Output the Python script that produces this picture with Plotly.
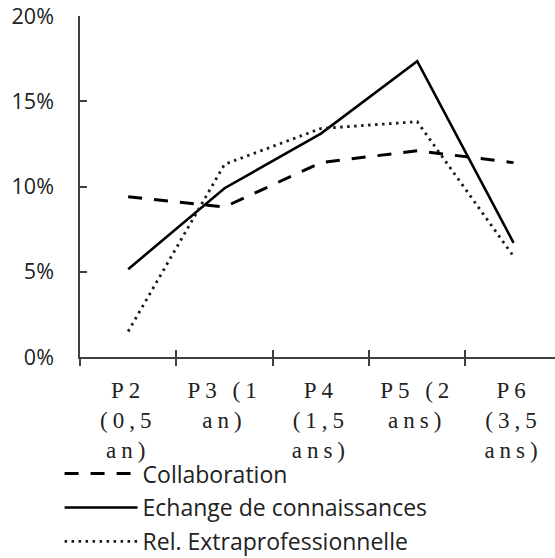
import plotly.graph_objects as go

categories = ["P2<br>(0,5<br>an)", "P3 (1<br>an)", "P4<br>(1,5<br>ans)", "P5 (2<br>ans)", "P6<br>(3,5<br>ans)"]
collaboration = [9.4, 8.8, 11.4, 12.1, 11.4]
echange = [5.15, 9.9, 13.1, 17.35, 6.7]
rel_extra = [1.5, 11.3, 13.4, 13.8, 5.9]
y_ticks = [0, 5, 10, 15, 20]
y_tick_labels = ["0%", "5%", "10%", "15%", "20%"]

axis_color = "#404040"
x_idx = list(range(len(categories)))

fig = go.Figure()
fig.add_trace(go.Scatter(x=x_idx, y=collaboration, mode="lines", name="Collaboration", legendgroup="a",
                         line=dict(color="black", width=3, dash="14px,12px")))
fig.add_trace(go.Scatter(x=x_idx, y=echange, mode="lines", name="Echange de connaissances", legendgroup="b",
                         line=dict(color="black", width=2.6)))
fig.add_trace(go.Scatter(x=x_idx, y=rel_extra, mode="lines", name="Rel. Extraprofessionnelle", legendgroup="c",
                         line=dict(color="#1a1a1a", width=2.8, dash="2.5px,4.5px")))

fig.update_layout(
    width=555, height=558,
    margin=dict(l=80, r=0, t=16, b=201, autoexpand=False),
    paper_bgcolor="white", plot_bgcolor="white",
    font=dict(family="Open Sans", color="#222222", size=20),
    showlegend=True,
    legend=dict(x=-0.043, y=-0.279, xanchor="left", yanchor="top",
                font=dict(family="Open Sans", size=23, color="#222222"),
                itemwidth=73, bgcolor="rgba(0,0,0,0)", tracegroupgap=1),
    xaxis=dict(
        range=[-0.5, 4.43], tickmode="array", tickvals=x_idx, ticktext=categories,
        showline=True, linecolor=axis_color, linewidth=1.5, automargin=False,
        ticks="", showgrid=False, zeroline=False, ticklabelstandoff=12,
        tickfont=dict(family="Liberation Serif", size=23, color="#222222"),
    ),
    yaxis=dict(
        range=[0, 20], tickmode="array", tickvals=y_ticks, ticktext=y_tick_labels,
        showline=True, linecolor=axis_color, linewidth=1.5, automargin=False,
        ticks="inside", ticklen=7, tickcolor=axis_color, tickwidth=1.5,
        showgrid=False, zeroline=False, ticklabelstandoff=20,
        tickfont=dict(family="Open Sans", size=21.5, color="#222222"),
    ),
    xaxis2=dict(
        range=[-0.5, 4.43], overlaying="x", anchor="y", side="bottom", automargin=False,
        tickmode="array", tickvals=[-0.5, 0.5, 1.5, 2.5, 3.5],
        ticks="outside", ticklen=8, tickcolor=axis_color, tickwidth=1.5,
        showgrid=False, zeroline=False, showline=False, showticklabels=False,
    ),
    xaxis3=dict(
        range=[-0.5, 4.43], overlaying="x", anchor="y", side="bottom", automargin=False,
        tickmode="array", tickvals=[-0.5, 0.5, 1.5, 2.5, 3.5],
        ticks="inside", ticklen=7, tickcolor=axis_color, tickwidth=1.5,
        showgrid=False, zeroline=False, showline=False, showticklabels=False,
    ),
)
fig.add_trace(go.Scatter(x=[0], y=[0], xaxis="x2", mode="markers", marker=dict(opacity=0), showlegend=False, hoverinfo="skip"))
fig.add_trace(go.Scatter(x=[0], y=[0], xaxis="x3", mode="markers", marker=dict(opacity=0), showlegend=False, hoverinfo="skip"))

post = """
document.body.style.margin='0';
document.body.style.overflow='hidden';
var gd = document.getElementsByClassName('plotly-graph-div')[0];
function spaceTicks(){
  document.querySelectorAll('.xtick text').forEach(function(t){ t.style.letterSpacing='5px'; });
}
spaceTicks();
gd.on('plotly_afterplot', spaceTicks);
"""
fig.write_html("out.html", post_script=post, config={"displayModeBar": False})
